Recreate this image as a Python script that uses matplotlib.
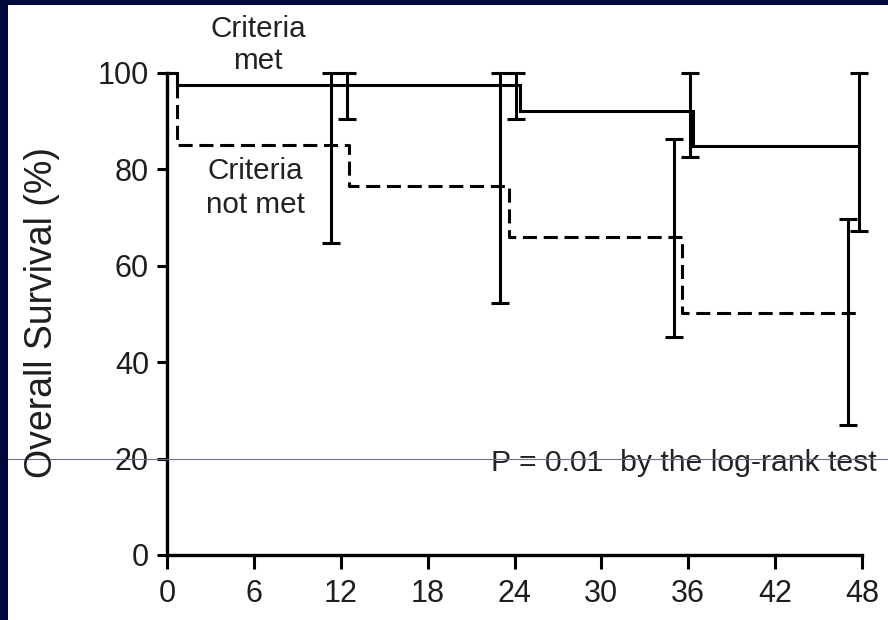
import matplotlib
matplotlib.use("Agg")
import matplotlib.pyplot as plt
import numpy as np
from matplotlib.patches import Rectangle

plt.rcParams['font.family'] = ['Liberation Sans', 'DejaVu Sans']

# ---- data ----
met_times = [0, 0.7, 24.4, 36.35, 47.8]
met_surv = [100, 97.5, 92.1, 84.9, 84.9]
notmet_times = [0, 0.7, 12.6, 23.6, 35.6, 47.8]
notmet_surv = [100, 85.1, 76.6, 66.0, 50.2, 50.2]

met_ci_x = [12.4, 24.1, 36.1, 47.8]
met_ci_low = [90.4, 90.5, 82.6, 67.2]
met_ci_high = [100, 100, 100, 100]

notmet_ci_x = [11.3, 23.0, 35.0, 47.0]
notmet_ci_low = [64.7, 52.3, 45.3, 27.0]
notmet_ci_high = [100, 100, 86.3, 69.7]

x_ticks = [0, 6, 12, 18, 24, 30, 36, 42, 48]
y_ticks = [0, 20, 40, 60, 80, 100]
y_label = "Overall Survival (%)"
p_text = "P = 0.01  by the log-rank test"

W, H = 888, 620
fig = plt.figure(figsize=(W / 100, H / 100), dpi=100)
fig.patch.set_facecolor('white')
navy = '#00093b'
fig.patches.append(Rectangle((0, 0), 8 / W, 1, transform=fig.transFigure,
                             facecolor=navy, edgecolor='none', zorder=10))
fig.patches.append(Rectangle((0, 1 - 4.5 / H), 1, 4.5 / H, transform=fig.transFigure,
                             facecolor=navy, edgecolor='none', zorder=10))

ax = fig.add_axes([167 / W, 65 / H, 695 / W, 482 / H])
ax.set_xlim(0, 48)
ax.set_ylim(0, 100)
for s in ['top', 'right']:
    ax.spines[s].set_visible(False)
for s in ['left', 'bottom']:
    ax.spines[s].set_linewidth(2.4)
    ax.spines[s].set_color('black')

lw = 2.2
ax.step(met_times, met_surv, where='post', color='black', lw=lw,
        clip_on=False, solid_joinstyle='miter', zorder=3)
ax.step(notmet_times, notmet_surv, where='post', color='black', lw=lw,
        linestyle=(0, (4.6, 2.2)), clip_on=False, zorder=3)

def ci(xs, lo, hi):
    xs = np.array(xs); lo = np.array(lo); hi = np.array(hi)
    mid = (lo + hi) / 2
    err = (hi - lo) / 2
    eb = ax.errorbar(xs, mid, yerr=err, fmt='none', ecolor='black',
                     elinewidth=lw, capsize=6.5, capthick=lw, zorder=4)
    for art in eb.lines[1] + eb.lines[2]:
        art.set_clip_on(False)
    for c in eb[2]:
        c.set_clip_on(False)

ci(met_ci_x, met_ci_low, met_ci_high)
ci(notmet_ci_x, notmet_ci_low, notmet_ci_high)

ax.set_xticks(x_ticks)
ax.set_yticks(y_ticks)
ax.tick_params(axis='both', colors='black', labelcolor='#1e1e1e',
               width=2.2, labelsize=22, direction='out')
ax.tick_params(axis='x', length=10, pad=7.5)
ax.tick_params(axis='y', length=7, pad=6)

# y label placed by baseline
fig.text(52 / W, 1 - 313 / H, y_label, rotation=90, rotation_mode='anchor',
         ha='center', va='baseline', fontsize=27, color='#1e1e1e')

tc = '#222222'
fs = 21.3
ax.text(6.3, 107.5, "Criteria", ha='center', va='baseline', fontsize=fs, color=tc, clip_on=False)
ax.text(6.3, 100.8, "met", ha='center', va='baseline', fontsize=fs, color=tc, clip_on=False)
ax.text(6.1, 78.0, "Criteria", ha='center', va='baseline', fontsize=fs, color=tc, clip_on=False)
ax.text(6.1, 71.0, "not met", ha='center', va='baseline', fontsize=fs, color=tc, clip_on=False)
ax.text(49.0, 17.4, p_text, ha='right', va='baseline', fontsize=21.7, color=tc, clip_on=False)

# thin scan line across the image
ax.axhline(20, xmin=-159 / 695, xmax=721 / 695, color='#6c7090', lw=0.8,
           clip_on=False, zorder=6)

fig.savefig('out.png', dpi=100, facecolor='white')
